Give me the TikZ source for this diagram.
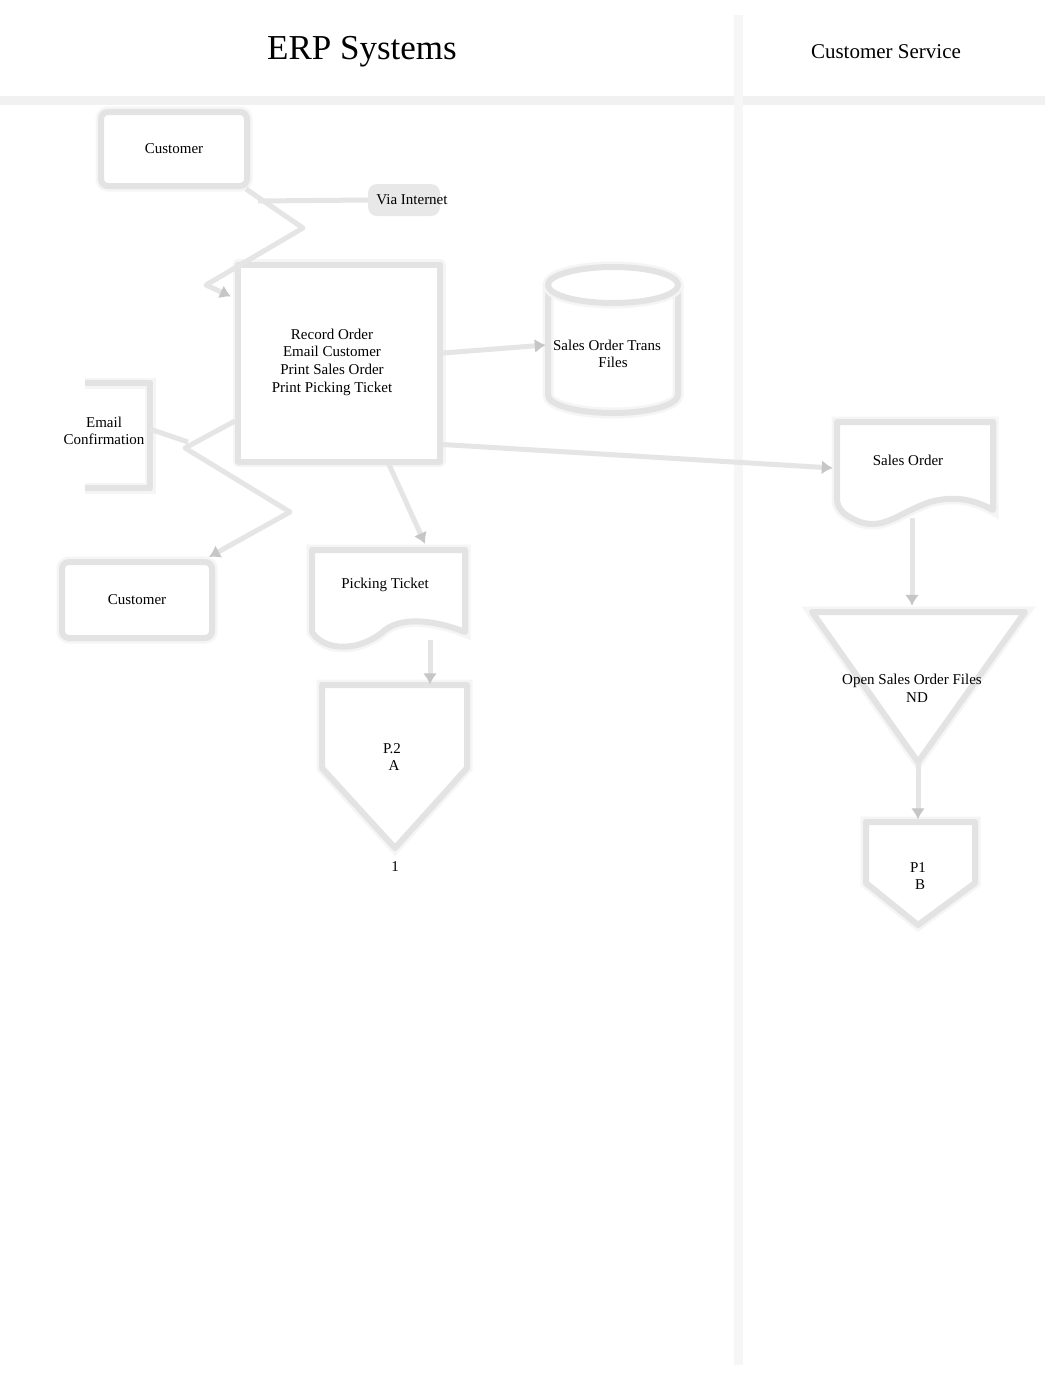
\documentclass[tikz,border=0pt]{standalone}
\usepackage{fontspec}
\setmainfont{Liberation Serif}
\usetikzlibrary{arrows.meta,calc}
\newcommand\bodyfs{\fontsize{15}{17.7}\selectfont}
\begin{document}
\begin{tikzpicture}[x=1pt,y=-1pt,
  outline/.style={draw=gray!22, line width=6pt, line join=round, preaction={draw=gray!8, line width=11pt}},
  rbox/.style={outline, rounded corners=7pt, fill=white, font=\bodyfs, align=center},
  sbox/.style={outline, fill=white, font=\bodyfs, align=center},
  lbl/.style={font=\bodyfs, align=center, inner sep=0pt},
  ghost/.style={inner sep=0pt},
  conn/.style={draw=gray!20, line width=5pt, line join=round},
  arr/.style={conn, -{Latex[length=11pt,width=14pt,color=gray!45]}},
  divider/.style={draw=gray!11, line width=9pt}]
\fill[white] (0,0) rectangle (1062,1377);
\useasboundingbox (0,0) rectangle (1062,1377);

% swimlane dividers
\draw[divider] (0,100) -- (1045,100);
\draw[divider, draw=gray!7] (738,15) -- (738,1365);

% headings
\node[font=\fontsize{35}{40}\selectfont] (title) at (362,52) {ERP Systems};
\node[font=\fontsize{21}{25}\selectfont] (cs) at (886,52) {Customer Service};

% top customer
\node[rbox, minimum width=146pt, minimum height=74pt] (cust1) at (174,149) {Customer};

% via internet annotation
\node[fill=gray!18, rounded corners=9pt, minimum width=72pt, minimum height=32pt] (viabg) at (404,200) {};
\node[lbl] (via) at (412,200) {Via Internet};

% record order process
\node[sbox, minimum width=202pt, minimum height=197pt] (rec) at (339,363) {};
\node[lbl] (rectext) at (332,362) {Record Order\\Email Customer\\Print Sales Order\\Print Picking Ticket};

% sales order trans files (disk)
\node[ghost, minimum width=130pt, minimum height=148pt] (sot) at (613,339) {};
\fill[white] (548,285) -- (548,395) arc[start angle=180,end angle=0,x radius=65,y radius=18] -- (678,285) -- cycle;
\draw[outline] (548,285) -- (548,395) arc[start angle=180,end angle=0,x radius=65,y radius=18] -- (678,285);
\draw[outline, fill=white] (613,285) ellipse[x radius=65, y radius=18];
\node[lbl] (sottext) at (607,354) {Sales Order Trans\\\hspace*{12pt}Files};

% email confirmation annotation
\draw[outline] (85,383) -- (150,383) -- (150,488) -- (85,488);
\node[lbl] (email) at (104,431) {Email\\Confirmation};

% bottom customer
\node[rbox, minimum width=150pt, minimum height=76pt] (cust2) at (137,600) {Customer};

% picking ticket document
\node[ghost, minimum width=153pt, minimum height=100pt] (pt) at (388,598) {};
\draw[outline, fill=white] (312,550) -- (465,550) -- (465,632)
  .. controls (440,622) and (405,615) .. (385,630)
  .. controls (360,652) and (325,652) .. (312,632) -- cycle;
\node[lbl] (pttext) at (385,585) {Picking Ticket};

% off-page connector P.2 A
\node[ghost, minimum width=145pt, minimum height=163pt] (p2) at (394,766) {};
\draw[outline, fill=white] (322,685) -- (467,685) -- (467,768) -- (395,848) -- (322,768) -- cycle;
\node[lbl] (p2text) at (392,757) {P.2\\\hspace*{4pt}A};
\node[lbl] (pg) at (395,867) {1};

% sales order document
\node[ghost, minimum width=156pt, minimum height=100pt] (so) at (915,470) {};
\draw[outline, fill=white] (837,422) -- (993,422) -- (993,510)
  .. controls (975,500) and (955,495) .. (930,502)
  .. controls (900,512) and (885,530) .. (860,522)
  .. controls (845,516) and (838,510) .. (837,500) -- cycle;
\node[lbl] (sotxt) at (908,460) {Sales Order};

% open sales order files (offline file)
\node[ghost, minimum width=213pt, minimum height=150pt] (osf) at (918,687) {};
\draw[outline, fill=white] (812,612) -- (1025,612) -- (918,762) -- cycle;
\node[lbl] (osftext) at (912,688) {Open Sales Order Files\\\hspace*{10pt}ND};

% off-page connector P1 B
\node[ghost, minimum width=109pt, minimum height=103pt] (p1) at (920,873) {};
\draw[outline, fill=white] (866,822) -- (975,822) -- (975,883) -- (918,925) -- (866,883) -- cycle;
\node[lbl] (p1text) at (918,876) {P1\\\hspace*{4pt}B};

% connectors
\draw[conn] ($(cust1.south east)+(8,12)$) -- (viabg.west);
\draw[arr] ($(cust1.south east)+(-4,0)$) -- (303,228) -- (206,285) -- ($(rec.north west)+(-4,35)$);
\draw[arr] ($(rec.east)+(0,-10)$) -- ($(sot.west)+(-2,6)$);
\draw[arr] ($(rec.south east)+(0,-20)$) -- ($(so.west)+(-4,-2)$);
\draw[conn] ($(email.east)+(5,-2)$) -- (188,442);
\draw[arr] ($(rec.west)+(0,58)$) -- (185,448) -- (290,512) -- ($(cust2.north east)+(-6,-2)$);
\draw[arr] ($(rec.south)+(50,0)$) -- ($(pt.north)+(37,-4)$);
\draw[arr] ($(pt.south)+(42,-8)$) -- ($(p2.north)+(36,0)$);
\draw[arr] ($(so.south)+(-3,-2)$) -- ($(osf.north)+(-6,-6)$);
\draw[arr] (osf.south) -- ($(p1.north)+(-2,-2)$);
\end{tikzpicture}
\end{document}
